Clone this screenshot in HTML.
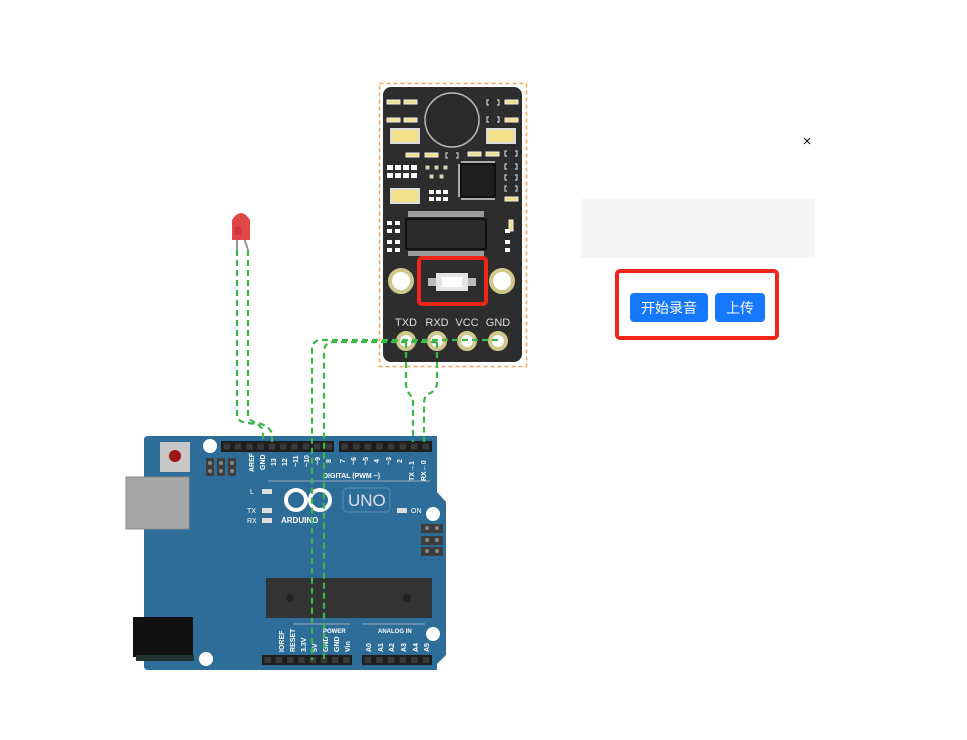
<!DOCTYPE html>
<html><head><meta charset="utf-8"><style>
html,body{margin:0;padding:0;background:#fff;width:967px;height:740px;overflow:hidden}
svg{display:block}
text{font-family:"Liberation Sans","Noto Sans CJK SC",sans-serif}
</style></head><body>
<svg width="967" height="740" viewBox="0 0 967 740" xmlns="http://www.w3.org/2000/svg">
<defs>
<pattern id="pinT" x="221" y="441" width="11.3" height="11" patternUnits="userSpaceOnUse"><rect width="11.3" height="11" fill="#1e1e1e"/><rect x="2.5" y="2.5" width="6.5" height="6" fill="#3a3a3a"/></pattern>
<pattern id="pinT2" x="339" y="441" width="11.6" height="11" patternUnits="userSpaceOnUse"><rect width="11.6" height="11" fill="#1e1e1e"/><rect x="2.5" y="2.5" width="6.5" height="6" fill="#3a3a3a"/></pattern>
<pattern id="pinB" x="262" y="655" width="11.25" height="10" patternUnits="userSpaceOnUse"><rect width="11.25" height="10" fill="#1e1e1e"/><rect x="2.5" y="2" width="6.5" height="6" fill="#3a3a3a"/></pattern>
<pattern id="pinB2" x="362" y="655" width="11.67" height="10" patternUnits="userSpaceOnUse"><rect width="11.67" height="10" fill="#1e1e1e"/><rect x="2.5" y="2" width="6.5" height="6" fill="#3a3a3a"/></pattern>
</defs>
<!-- Arduino -->
<path d="M144 440 Q144 436 148 436 L437 436 L437 492 L446 502 L446 655 L437 664 L437 670 L148 670 Q144 670 144 666 Z" fill="#2f6d99"/>
<rect x="126" y="477" width="63" height="52" fill="#a6a6a6" stroke="#8a8a8a"/>
<rect x="133" y="617" width="60" height="40" fill="#111"/>
<rect x="136" y="655" width="58" height="6" fill="#233"/>
<rect x="160" y="442" width="30" height="30" fill="#c8c8c8"/>
<circle cx="175" cy="456" r="6" fill="#a01515"/>
<circle cx="210" cy="446" r="7" fill="#fff"/>
<circle cx="206" cy="659" r="7" fill="#fff"/>
<circle cx="433" cy="514" r="7" fill="#fff"/>
<circle cx="433" cy="634" r="7" fill="#fff"/>
<g fill="#3d3d3d"><rect x="206" y="458" width="8" height="18"/><rect x="217" y="458" width="8" height="18"/><rect x="228" y="458" width="8" height="18"/>
<rect x="421" y="524" width="22" height="9"/><rect x="421" y="536" width="22" height="9"/><rect x="421" y="547" width="22" height="9"/></g>
<g fill="#888"><circle cx="210" cy="463" r="2"/><circle cx="210" cy="471" r="2"/><circle cx="221" cy="463" r="2"/><circle cx="221" cy="471" r="2"/><circle cx="232" cy="463" r="2"/><circle cx="232" cy="471" r="2"/>
<circle cx="427" cy="528" r="2"/><circle cx="437" cy="528" r="2"/><circle cx="427" cy="540" r="2"/><circle cx="437" cy="540" r="2"/><circle cx="427" cy="551" r="2"/><circle cx="437" cy="551" r="2"/></g>
<!-- headers -->
<rect x="221" y="441" width="113" height="11" fill="url(#pinT)"/>
<rect x="339" y="441" width="93" height="11" fill="url(#pinT2)"/>
<rect x="262" y="655" width="90" height="10" fill="url(#pinB)"/>
<rect x="362" y="655" width="70" height="10" fill="url(#pinB2)"/>
<g font-size="7" fill="#fff" font-weight="bold" font-family="Liberation Serif,serif">
<text transform="translate(254,472) rotate(-90)">AREF</text>
<text transform="translate(265,470) rotate(-90)">GND</text>
<text transform="translate(276,466) rotate(-90)">13</text>
<text transform="translate(287,466) rotate(-90)">12</text>
<text transform="translate(298,467) rotate(-90)">~11</text>
<text transform="translate(309,467) rotate(-90)">~10</text>
<text transform="translate(320,465) rotate(-90)">~9</text>
<text transform="translate(331,463) rotate(-90)">8</text>
<text transform="translate(345,463) rotate(-90)">7</text>
<text transform="translate(356,465) rotate(-90)">~6</text>
<text transform="translate(368,465) rotate(-90)">~5</text>
<text transform="translate(379,463) rotate(-90)">4</text>
<text transform="translate(391,465) rotate(-90)">~3</text>
<text transform="translate(402,463) rotate(-90)">2</text>
<text transform="translate(414,481) rotate(-90)">TX→1</text>
<text transform="translate(426,481) rotate(-90)">RX←0</text>
<text transform="translate(284,652) rotate(-90)">IOREF</text>
<text transform="translate(295,652) rotate(-90)">RESET</text>
<text transform="translate(306,652) rotate(-90)">3.3V</text>
<text transform="translate(317,652) rotate(-90)">5V</text>
<text transform="translate(328,652) rotate(-90)">GND</text>
<text transform="translate(339,652) rotate(-90)">GND</text>
<text transform="translate(350,652) rotate(-90)">Vin</text>
<text transform="translate(371,652) rotate(-90)">A0</text>
<text transform="translate(383,652) rotate(-90)">A1</text>
<text transform="translate(394,652) rotate(-90)">A2</text>
<text transform="translate(406,652) rotate(-90)">A3</text>
<text transform="translate(418,652) rotate(-90)">A4</text>
<text transform="translate(429,652) rotate(-90)">A5</text>
</g>
<line x1="268" y1="481" x2="430" y2="481" stroke="#9ab" stroke-width="1"/>
<text x="323" y="478" font-size="7" fill="#fff" font-weight="bold" font-family="Liberation Serif,serif">DIGITAL (PWM ~)</text>
<text x="250" y="494" font-size="7" fill="#fff">L</text>
<rect x="262" y="489" width="10" height="5" fill="#ddd"/>
<text x="247" y="513" font-size="7" fill="#fff">TX</text>
<text x="247" y="523" font-size="7" fill="#fff">RX</text>
<rect x="262" y="508" width="10" height="5" fill="#ddd"/>
<rect x="262" y="518" width="10" height="5" fill="#ddd"/>
<rect x="397" y="508" width="10" height="5" fill="#ddd"/>
<text x="411" y="513" font-size="7" fill="#fff">ON</text>
<circle cx="296" cy="500" r="10" fill="none" stroke="#fff" stroke-width="4"/>
<circle cx="320" cy="500" r="10" fill="none" stroke="#fff" stroke-width="4"/>
<text x="281" y="523" font-size="8" fill="#fff" font-weight="bold" font-family="Liberation Serif,serif">ARDUINO</text>
<rect x="343" y="488" width="47" height="24" rx="4" fill="none" stroke="#5a8db5"/>
<text x="348" y="506" font-size="17" fill="#dde" font-family="Liberation Serif,serif">UNO</text>
<rect x="266" y="578" width="166" height="40" fill="#333"/>
<circle cx="290" cy="598" r="4" fill="#222"/><circle cx="407" cy="598" r="4" fill="#222"/>
<line x1="293" y1="624" x2="350" y2="624" stroke="#9ab"/><line x1="362" y1="624" x2="425" y2="624" stroke="#9ab"/>
<text x="323" y="633" font-size="6" fill="#fff" font-weight="bold">POWER</text>
<text x="378" y="633" font-size="6" fill="#fff" font-weight="bold">ANALOG IN</text>
<!-- Module -->
<rect x="379.5" y="83.5" width="147" height="283" fill="none" stroke="#f5a65b" stroke-width="1.5" stroke-dasharray="4 3"/>
<rect x="383" y="87" width="139" height="275" rx="8" fill="#2d2d2d"/>
<circle cx="452" cy="120" r="27" fill="#2a2a2a" stroke="#bbb" stroke-width="1.5"/>
<g fill="#f1e08a" stroke="#eee" stroke-width="1">
<rect x="387" y="100" width="13" height="4"/><rect x="404" y="100" width="13" height="4"/>
<rect x="387" y="118" width="13" height="4"/><rect x="404" y="118" width="13" height="4"/>
<rect x="505" y="100" width="13" height="4"/><rect x="505" y="118" width="13" height="4"/>
<rect x="406" y="153" width="13" height="4"/><rect x="425" y="153" width="13" height="4"/>
<rect x="468" y="152" width="13" height="4"/><rect x="486" y="152" width="13" height="4"/>
<rect x="505" y="197" width="13" height="4"/>
</g>
<g fill="#f1e08a" stroke="#ddd" stroke-width="2">
<rect x="391" y="129" width="28" height="14"/><rect x="487" y="129" width="28" height="14"/><rect x="391" y="189" width="28" height="14"/>
</g>
<g fill="#fff"><rect x="387" y="165" width="6" height="5"/><rect x="395" y="165" width="6" height="5"/><rect x="403" y="165" width="6" height="5"/><rect x="411" y="165" width="6" height="5"/>
<rect x="387" y="173" width="6" height="5"/><rect x="395" y="173" width="6" height="5"/><rect x="403" y="173" width="6" height="5"/><rect x="411" y="173" width="6" height="5"/>
<rect x="429" y="190" width="5" height="4"/><rect x="436" y="190" width="5" height="4"/><rect x="443" y="190" width="5" height="4"/>
<rect x="429" y="197" width="5" height="4"/><rect x="436" y="197" width="5" height="4"/><rect x="443" y="197" width="5" height="4"/>
<rect x="387" y="221" width="5" height="4"/><rect x="395" y="221" width="5" height="4"/><rect x="387" y="229" width="5" height="4"/><rect x="395" y="229" width="5" height="4"/>
<rect x="387" y="240" width="5" height="4"/><rect x="395" y="240" width="5" height="4"/><rect x="387" y="248" width="5" height="4"/><rect x="395" y="248" width="5" height="4"/>
<rect x="505" y="229" width="5" height="4"/><rect x="505" y="240" width="5" height="4"/><rect x="505" y="248" width="5" height="4"/>
</g>
<rect x="509" y="220" width="4" height="11" fill="#f1e08a" stroke="#eee"/>
<g fill="#f1e08a" stroke="#ccc"><rect x="426" y="166" width="3" height="3"/><rect x="435" y="166" width="3" height="3"/><rect x="444" y="166" width="3" height="3"/><rect x="430" y="175" width="3" height="3"/><rect x="440" y="175" width="3" height="3"/></g>
<g fill="none" stroke="#ccc" stroke-width="1.2">
<path d="M489 100 h-2 v5 h2 M497 100 h2 v5 h-2"/><path d="M489 117 h-2 v5 h2 M497 117 h2 v5 h-2"/>
<path d="M448 153 h-2 v5 h2 M456 153 h2 v5 h-2"/>
<path d="M507 151 h-2 v5 h2 M515 151 h2 v5 h-2"/><path d="M507 164 h-2 v5 h2 M515 164 h2 v5 h-2"/>
<path d="M507 175 h-2 v5 h2 M515 175 h2 v5 h-2"/><path d="M507 186 h-2 v5 h2 M515 186 h2 v5 h-2"/>
</g>
<rect x="461" y="164" width="34" height="33" fill="#1f1f1f" stroke="#111" stroke-width="2"/>
<rect x="461" y="161" width="34" height="2" fill="#aaa"/><rect x="461" y="198" width="34" height="2" fill="#aaa"/>
<rect x="458" y="164" width="2" height="33" fill="#aaa"/>
<rect x="406" y="219" width="80" height="30" fill="#2a2a2a" stroke="#111" stroke-width="2"/>
<rect x="408" y="211" width="76" height="6" fill="#ccc" opacity=".7"/>
<rect x="408" y="251" width="76" height="5" fill="#ccc" opacity=".7"/>
<circle cx="401" cy="281" r="11" fill="#fff" stroke="#cfc88a" stroke-width="4"/>
<circle cx="502" cy="281" r="11" fill="#fff" stroke="#cfc88a" stroke-width="4"/>
<rect x="419" y="258" width="67" height="46" rx="3" fill="none" stroke="#f0261a" stroke-width="4"/>
<rect x="428" y="278" width="48" height="8" fill="#bbb"/>
<rect x="436" y="273" width="32" height="18" fill="#e6e6e6"/>
<rect x="442" y="277" width="20" height="10" fill="#fff"/>
<text x="406" y="326" font-size="11" fill="#ddd" text-anchor="middle">TXD</text>
<text x="437" y="326" font-size="11" fill="#ddd" text-anchor="middle">RXD</text>
<text x="467" y="326" font-size="11" fill="#ddd" text-anchor="middle">VCC</text>
<text x="498" y="326" font-size="11" fill="#ddd" text-anchor="middle">GND</text>
<g fill="#fff" stroke="#cfc88a" stroke-width="4"><circle cx="406" cy="341" r="8"/><circle cx="437" cy="341" r="8"/><circle cx="467" cy="341" r="8"/><circle cx="498" cy="341" r="8"/></g>
<!-- LED -->
<line x1="237" y1="238" x2="237" y2="250" stroke="#999" stroke-width="2"/>
<line x1="244" y1="238" x2="248" y2="250" stroke="#999" stroke-width="2"/>
<path d="M232 240 L232 220 Q241 206 250 220 L250 240 Z" fill="#e04848"/>
<rect x="235" y="227" width="6" height="8" fill="#c93838"/>
<!-- wires -->
<g fill="none" stroke="#3cb84a" stroke-width="2.2" stroke-dasharray="6 4">
<path d="M237 250 L237 416 Q238 422 248 423 L256 424 Q262 426 263 432 L263 442"/>
<path d="M248 250 L248 416 Q250 422 258 423 Q270 426 272 434 L272 442"/>
<path d="M406 342 L406 386 Q408 394 413 398 L413 442"/>
<path d="M437 342 L437 384 Q435 392 428 394 Q424 396 424 404 L424 442"/>
<path d="M498 340 L320 340 Q312 341 312 350 L312 660"/>
<path d="M437 342 L332 342 Q324 343 324 352 L324 660"/>
</g>
<!-- right panel -->
<text x="807" y="146" font-size="15" text-anchor="middle" fill="#111">×</text>
<rect x="581" y="199" width="234" height="59" fill="#f5f5f5"/>
<rect x="617" y="271" width="160" height="67" rx="3" fill="none" stroke="#f0261a" stroke-width="4"/>
<rect x="630" y="293" width="78" height="29" rx="4" fill="#1677ff"/>
<text x="669" y="313" font-size="14" fill="#fff" text-anchor="middle">开始录音</text>
<rect x="715" y="293" width="50" height="29" rx="4" fill="#1677ff"/>
<text x="740" y="313" font-size="14" fill="#fff" text-anchor="middle">上传</text>
</svg>
</body></html>
